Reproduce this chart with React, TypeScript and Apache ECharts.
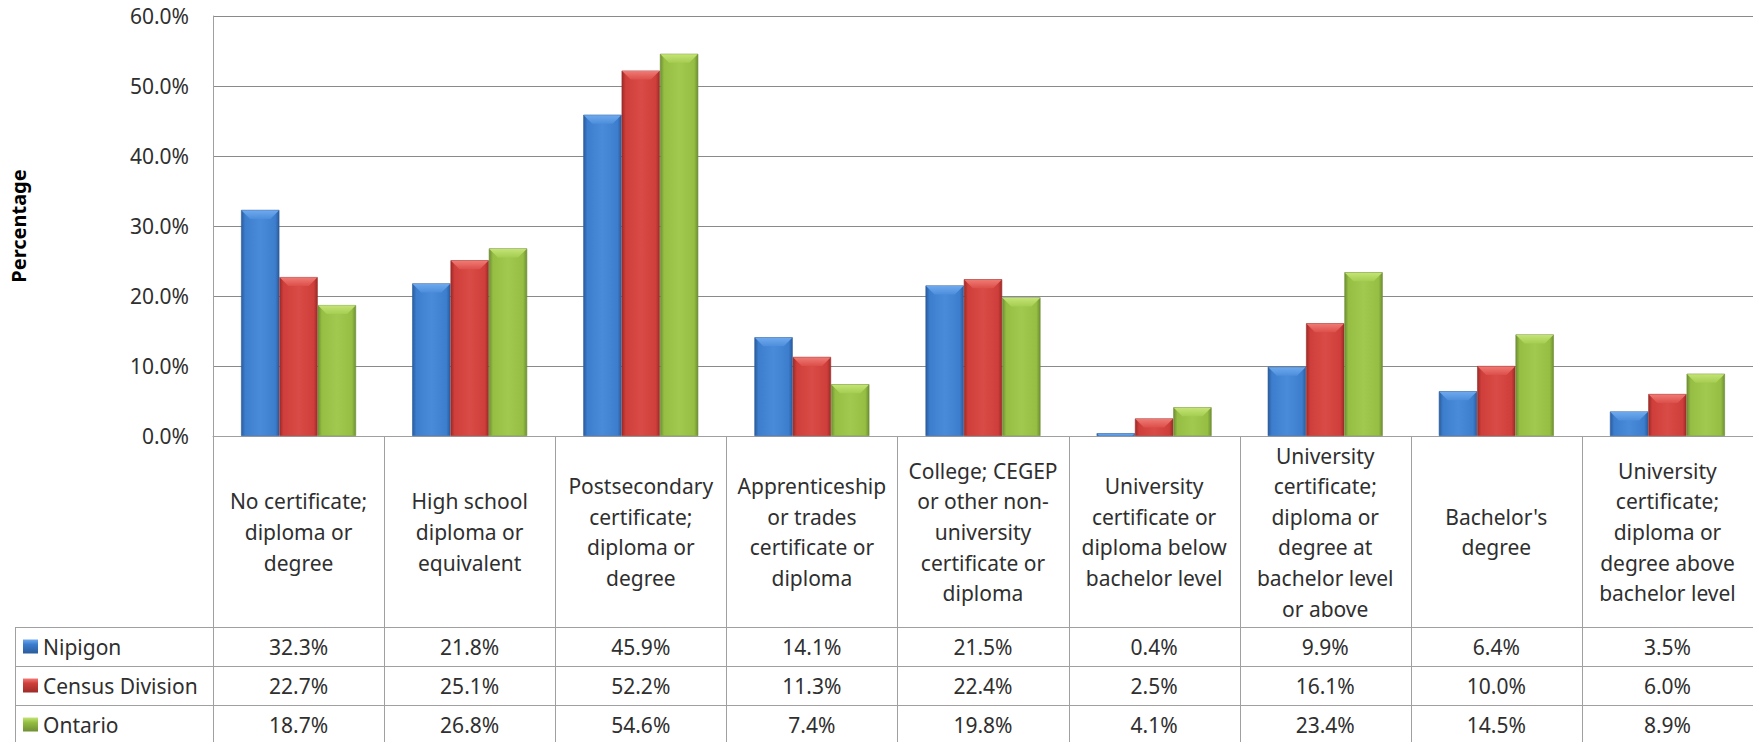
import React, { useEffect, useRef } from "react";
import * as echarts from "echarts";

const categoryLines: string[][] = [
  ["No certificate;", "diploma or", "degree"],
  ["High school", "diploma or", "equivalent"],
  ["Postsecondary", "certificate;", "diploma or", "degree"],
  ["Apprenticeship", "or trades", "certificate or", "diploma"],
  ["College; CEGEP", "or other non-", "university", "certificate or", "diploma"],
  ["University", "certificate or", "diploma below", "bachelor level"],
  ["University", "certificate;", "diploma or", "degree at", "bachelor level", "or above"],
  ["Bachelor's", "degree"],
  ["University", "certificate;", "diploma or", "degree above", "bachelor level"],
];
const categories = categoryLines.map((l) => l.join(" "));

const seriesNames = ["Nipigon", "Census Division", "Ontario"];
const nipigon = [32.3, 21.8, 45.9, 14.1, 21.5, 0.4, 9.9, 6.4, 3.5];
const censusDivision = [22.7, 25.1, 52.2, 11.3, 22.4, 2.5, 16.1, 10.0, 6.0];
const ontario = [18.7, 26.8, 54.6, 7.4, 19.8, 4.1, 23.4, 14.5, 8.9];
const seriesValues = [nipigon, censusDivision, ontario];

const yTicks = [0, 10, 20, 30, 40, 50, 60];

const palettes = [
  { edge: "#2b5c9c", body: "#3c7dcd", light: "#4a8bd9", bevel: "#6ea9ee", bevel2: "#4d8edb" },
  { edge: "#9c2b28", body: "#cf3e3a", light: "#d94b46", bevel: "#f07a74", bevel2: "#dc4f4a" },
  { edge: "#6f8f34", body: "#95be43", light: "#a1c94f", bevel: "#c4e475", bevel2: "#a5cd52" },
];

const FONT = "'Noto Sans', sans-serif";
const TEXT = "#2f2f2f";
const LINE = "#a0a0a0";

const GRID_LEFT = 207;
const GRID_TOP = 16;
const AXIS_Y = 436;
const ROW_TOPS = [627, 666, 705, 744];
const TABLE_LEFT = 15;
const BAR_RATIO = 0.224;

function bodyGradient(p: any) {
  return new echarts.graphic.LinearGradient(0, 0, 1, 0, [
    { offset: 0, color: p.edge },
    { offset: 0.1, color: p.body },
    { offset: 0.5, color: p.light },
    { offset: 0.9, color: p.body },
    { offset: 1, color: p.edge },
  ]);
}

export default function App() {
  const ref = useRef<HTMLDivElement>(null);
  useEffect(() => {
    if (!ref.current) return;
    const chart = echarts.init(ref.current, null, { renderer: "svg" });

    const barSeries = seriesValues.map((vals, s) => ({
      name: seriesNames[s],
      type: "bar",
      data: vals,
      barWidth: BAR_RATIO * 100 + "%",
      barGap: "0%",
      itemStyle: {
        color: bodyGradient(palettes[s]),
        borderColor: palettes[s].edge,
        borderWidth: 0.6,
      },
      z: 2,
    }));

    const bevelSeries = seriesValues.map((vals, s) => ({
      type: "custom",
      silent: true,
      z: 3,
      data: vals.map((v, i) => [i, v]),
      renderItem: (params: any, api: any) => {
        const i = api.value(0);
        const v = api.value(1);
        const top = api.coord([i, v]);
        const base = api.coord([i, 0]);
        const band = api.size([1, 0])[0];
        const w = band * BAR_RATIO;
        const x0 = top[0] - 1.5 * w + s * w;
        const x1 = x0 + w;
        const h = base[1] - top[1];
        const b = Math.min(9, h, w / 2);
        const p = palettes[s];
        return {
          type: "polygon",
          shape: {
            points: [
              [x0 + 0.5, top[1] + 0.5],
              [x1 - 0.5, top[1] + 0.5],
              [x1 - b, top[1] + b],
              [x0 + b, top[1] + b],
            ],
          },
          style: {
            fill: new echarts.graphic.LinearGradient(0, 0, 0, 1, [
              { offset: 0, color: p.bevel },
              { offset: 1, color: p.bevel2 },
            ]),
          },
        };
      },
    }));

    chart.setOption({
      animation: false,
      backgroundColor: "#ffffff",
      grid: { left: GRID_LEFT, right: 0, top: GRID_TOP, bottom: 742 - AXIS_Y },
      xAxis: {
        type: "category",
        data: categories,
        axisLine: { show: true, lineStyle: { color: LINE, width: 1 } },
        axisTick: { show: false },
        axisLabel: {
          interval: 0,
          margin: 96,
          verticalAlign: "middle",
          align: "center",
          lineHeight: 30.6,
          fontSize: 21,
          fontFamily: FONT,
          color: TEXT,
          formatter: (_v: string, idx: number) => categoryLines[idx].join("\n"),
        },
        splitLine: { show: false },
      },
      yAxis: {
        type: "value",
        min: 0,
        max: 60,
        interval: 10,
        name: "Percentage",
        nameLocation: "middle",
        nameGap: 185,
        nameTextStyle: { fontSize: 20, fontWeight: "bold", fontFamily: FONT, color: "#000" },
        axisLine: { show: true, lineStyle: { color: LINE } },
        axisTick: { show: false },
        axisLabel: {
          margin: 24,
          fontSize: 21,
          fontFamily: FONT,
          color: TEXT,
          formatter: (v: number) => (yTicks.includes(v) ? v.toFixed(1) + "%" : ""),
        },
        splitLine: { show: true, lineStyle: { color: "#8a8a8a", width: 1 } },
      },
      series: [...barSeries, ...bevelSeries],
    });

    // Build the data table under the axis
    const centers = categories.map((_c, i) => chart.convertToPixel({ xAxisIndex: 0 }, i) as number);
    const band = centers.length > 1 ? centers[1] - centers[0] : 170;
    const bounds = centers.map((c) => c - band / 2);
    bounds.push(centers[centers.length - 1] + band / 2);
    const right = bounds[bounds.length - 1];
    const bottom = ROW_TOPS[ROW_TOPS.length - 1];

    const graphics: any[] = [];
    bounds.forEach((x, k) => {
      graphics.push({
        type: "line",
        shape: { x1: Math.round(x) + 0.5, y1: AXIS_Y, x2: Math.round(x) + 0.5, y2: bottom },
        style: { stroke: LINE, lineWidth: 1 },
        silent: true,
      });
    });
    graphics.push({
      type: "line",
      shape: { x1: TABLE_LEFT + 0.5, y1: ROW_TOPS[0], x2: TABLE_LEFT + 0.5, y2: bottom },
      style: { stroke: LINE, lineWidth: 1 },
    });
    ROW_TOPS.forEach((y) => {
      graphics.push({
        type: "line",
        shape: { x1: TABLE_LEFT, y1: y + 0.5, x2: right, y2: y + 0.5 },
        style: { stroke: LINE, lineWidth: 1 },
      });
    });

    seriesNames.forEach((name, s) => {
      const yc = (ROW_TOPS[s] + ROW_TOPS[s + 1]) / 2;
      const p = palettes[s];
      graphics.push({
        type: "rect",
        shape: { x: 23, y: yc - 7, width: 15, height: 14 },
        style: {
          fill: new echarts.graphic.LinearGradient(0, 0, 0, 1, [
            { offset: 0, color: p.bevel },
            { offset: 0.35, color: p.body },
            { offset: 1, color: p.edge },
          ]),
        },
      });
      graphics.push({
        type: "text",
        x: 43,
        y: yc,
        style: {
          text: name,
          fontSize: 21,
          fontFamily: FONT,
          fill: TEXT,
          textAlign: "left",
          textVerticalAlign: "middle",
        },
      });
      seriesValues[s].forEach((v, i) => {
        graphics.push({
          type: "text",
          x: centers[i],
          y: yc,
          style: {
            text: v.toFixed(1) + "%",
            fontSize: 21,
            fontFamily: FONT,
            fill: TEXT,
            textAlign: "center",
            textVerticalAlign: "middle",
          },
        });
      });
    });

    chart.setOption({ graphic: graphics });

    return () => chart.dispose();
  }, []);

  return (
    <div
      ref={ref}
      style={{ position: "fixed", left: 0, top: 0, width: 1753, height: 742, background: "#fff" }}
    />
  );
}
